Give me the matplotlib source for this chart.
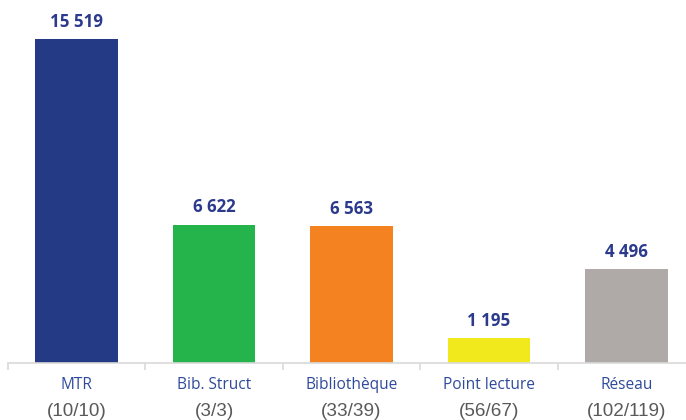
import matplotlib

matplotlib.use("Agg")
import matplotlib.pyplot as plt
import numpy as np

# Data
categories = ["MTR", "Bib. Struct", "Bibliothèque", "Point lecture", "Réseau"]
counts = ["(10/10)", "(3/3)", "(33/39)", "(56/67)", "(102/119)"]
values = [15519, 6622, 6563, 1195, 4496]
colors = ["#253A85", "#25B34B", "#F58220", "#F1E91C", "#AFAAA8"]

VALUE_COLOR = "#2B3A8C"
CAT_COLOR = "#2F4A9B"
COUNT_COLOR = "#595959"
AXIS_COLOR = "#D9D9D9"


def fmt(v):
    return f"{v:,}".replace(",", " ")


fig = plt.figure(figsize=(6.86, 4.2), dpi=100)
ax = fig.add_axes([8 / 686, 57 / 420, 687 / 686, 363 / 420])

x = np.arange(len(categories))
ax.bar(x, values, width=0.6, color=colors, zorder=2)

for xi, v in zip(x, values):
    ax.annotate(
        fmt(v),
        (xi, v),
        xytext=(0, 6),
        textcoords="offset points",
        ha="center",
        va="bottom",
        fontsize=12.2,
        fontweight="bold",
        color=VALUE_COLOR,
        family="Open Sans",
    )

ax.set_xlim(-0.5, 4.5)
ax.set_ylim(0, 17387)

for s in ["top", "right", "left"]:
    ax.spines[s].set_visible(False)
ax.spines["bottom"].set_color(AXIS_COLOR)
ax.spines["bottom"].set_linewidth(1.2)
ax.set_yticks([])

# separator ticks between categories
ax.set_xticks(np.arange(-0.5, 5, 1.0))
ax.set_xticklabels([])
ax.tick_params(axis="x", length=5, color=AXIS_COLOR, width=1.2)

xt = ax.get_xaxis_transform()
for xi, cat, cnt in zip(x, categories, counts):
    ax.text(xi, -14 / 363, cat, transform=xt, ha="center", va="top",
            fontsize=11.2, color=CAT_COLOR, family="Open Sans")
    ax.text(xi, -40 / 363, cnt, transform=xt, ha="center", va="top",
            fontsize=13.6, color=COUNT_COLOR, family="Liberation Sans")

fig.savefig("out.png", dpi=100)
